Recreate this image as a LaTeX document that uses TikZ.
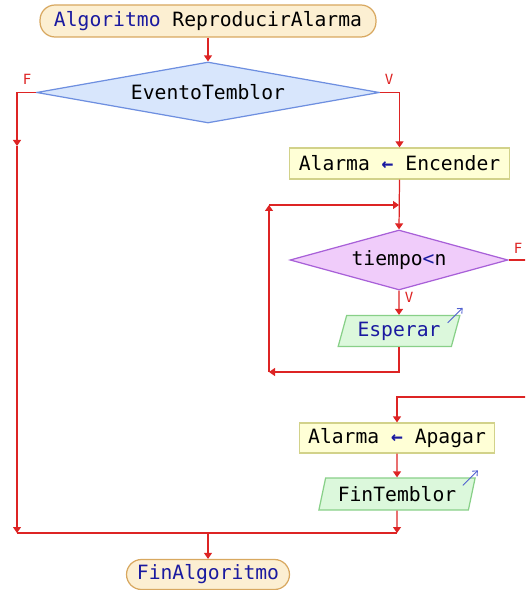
\documentclass[tikz,border=0pt]{standalone}
\usepackage{fontspec}
\setmonofont{DejaVu Sans Mono}
\usetikzlibrary{arrows.meta,positioning,shapes.geometric}
\definecolor{flowred}{HTML}{DD2424}
\definecolor{kwblue}{HTML}{1A1AA0}
\definecolor{termfill}{HTML}{FCEFD2}
\definecolor{termdraw}{HTML}{D8A860}
\definecolor{evfill}{HTML}{D8E6FC}
\definecolor{evdraw}{HTML}{6E8FE0}
\definecolor{procfill}{HTML}{FFFFD6}
\definecolor{procdraw}{HTML}{D2D28A}
\definecolor{tnfill}{HTML}{F0CCFA}
\definecolor{tndraw}{HTML}{A860D8}
\definecolor{iofill}{HTML}{DCF8DC}
\definecolor{iodraw}{HTML}{88D088}
\definecolor{ioarrow}{HTML}{5060D0}
\newcommand\kw[1]{\textcolor{kwblue}{#1}}

\begin{document}
\begin{tikzpicture}[x=0.02cm,y=-0.02cm,>={Triangle[length=0.12cm,width=0.16cm]},
    font=\fontsize{11.2}{13}\selectfont\ttfamily,
    terminal/.style={draw=termdraw,fill=termfill,line width=0.7pt,rounded corners=0.3cm,minimum height=0.64cm,inner sep=0pt},
    decision/.style={diamond,line width=0.7pt,inner sep=0pt},
    process/.style={draw=procdraw,fill=procfill,line width=0.7pt,minimum height=0.62cm,inner sep=0pt},
    io/.style={trapezium,trapezium left angle=70,trapezium right angle=110,trapezium stretches=true,draw=iodraw,fill=iofill,line width=0.7pt,minimum height=0.62cm,inner sep=0pt},
    flow/.style={draw=flowred,line width=0.7pt,->},
    lbl/.style={text=flowred,font=\fontsize{8}{9}\selectfont\ttfamily,inner sep=0pt},
    ioarr/.style={draw=ioarrow,line width=0.5pt,-{Straight Barb[length=0.08cm,width=0.14cm]}}]
    \clip (0,0) rectangle (525,590);
    % nodes
    \node[terminal,minimum width=6.72cm] (start) at (208,21) {\kw{Algoritmo} ReproducirAlarma};
    \node[decision,draw=evdraw,fill=evfill,aspect=5.6,minimum width=6.86cm,minimum height=1.22cm] (ev) at (208,92.5) {EventoTemblor};
    \node[process,minimum width=4.4cm] (enc) at (399.5,163.5) {Alarma \kw{\textbf{←}} Encender};
    \node[decision,draw=tndraw,fill=tnfill,aspect=3.6,minimum width=4.36cm,minimum height=1.2cm] (tn) at (399,260) {tiempo\kw{<}n};
    \node[io,minimum width=2.44cm] (esp) at (399,331) {\kw{Esperar}};
    \node[process,minimum width=3.9cm,minimum height=0.6cm] (apa) at (397,438) {Alarma \kw{\textbf{←}} Apagar};
    \node[io,minimum width=3.14cm,minimum height=0.64cm] (fin) at (397,494) {FinTemblor};
    \node[terminal,minimum width=3.26cm,minimum height=0.6cm] (end) at (208,574.5) {\kw{FinAlgoritmo}};
    % labels
    \node[lbl] (evF) at (27,79) {F};
    \node[lbl] (evV) at (389,79) {V};
    \node[lbl] (tnF) at (518,248) {F};
    \node[lbl] (tnV) at (409,297) {V};
    % free ends
    \coordinate (lt) at (17,146);
    \coordinate (lb) at (17,533);
    \coordinate (rb) at (397,533);
    \coordinate (mb) at (208,533);
    \coordinate (jn) at (399,205);
    \coordinate (lpa) at (269,205);
    \coordinate (lpb) at (269,372);
    \coordinate (rx) at (545,260);
    \coordinate (ry) at (545,397);
    % connectors
    \draw[flow] (start) -- (ev);
    \draw[flow] (ev.west) -| (lt);
    \draw[flow] (lt) -- (lb);
    \draw[flow] (ev.east) -| (enc.north);
    \draw[flow] (enc.south) -- (tn.north);
    \draw[flow] (tn.south) -- (esp.north);
    \draw[flow] (esp.south) |- (lpb);
    \draw[flow] (lpb) -- (lpa);
    \draw[flow] (lpa) -- (jn);
    \draw[flow] (tn.east) -- (rx) -- (ry) -| (apa.north);
    \draw[flow] (apa) -- (fin);
    \draw[flow] (fin.south) -- (rb);
    \draw[flow,-] (lb) -- (rb);
    \draw[flow] (mb) -- (end);
    % output marks
    \draw[ioarr] ([shift={(-13,8)}]esp.top right corner) -- ([shift={(2,-7)}]esp.top right corner);
    \draw[ioarr] ([shift={(-13,8)}]fin.top right corner) -- ([shift={(2,-7)}]fin.top right corner);
\end{tikzpicture}
\end{document}
